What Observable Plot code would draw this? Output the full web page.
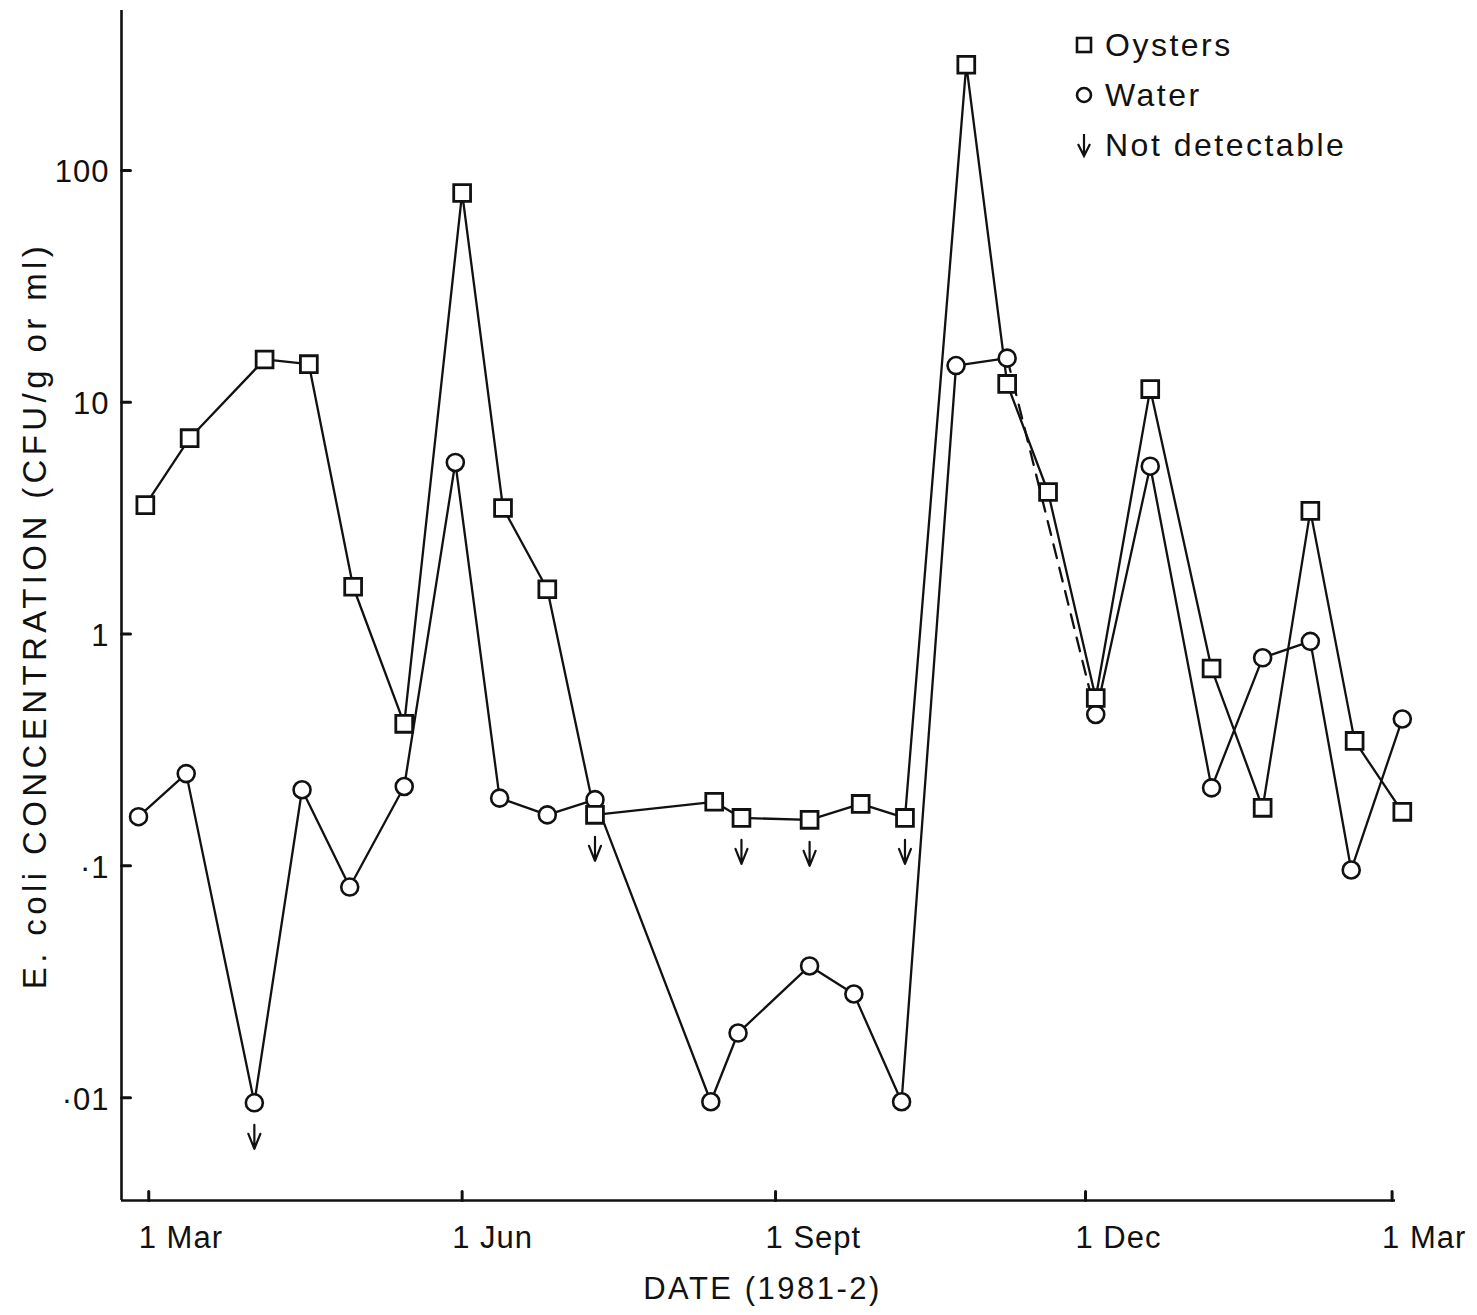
<!DOCTYPE html>
<html>
<head>
<meta charset="utf-8">
<script src="https://cdn.jsdelivr.net/npm/d3@7"></script>
<script src="https://cdn.jsdelivr.net/npm/@observablehq/plot@0.6"></script>
<style>
  html, body { margin: 0; padding: 0; background: #fff; }
  #wrap { position: relative; width: 1477px; height: 1315px; overflow: hidden; }
  #legend { position: absolute; left: 1074px; top: 20px; font-family: "Liberation Sans", Arial, sans-serif; font-size: 32px; letter-spacing: 2.5px; color: #111; }
  #legend .row { display: flex; align-items: center; height: 50px; }
  #legend svg { width: 22px; height: 30px; margin-right: 9px; flex: none; }
</style>
</head>
<body>
<div id="wrap">
  <div id="chart"></div>
  <div id="legend">
    <div class="row"><svg viewBox="0 0 22 30"><rect x="3" y="8" width="14" height="14" fill="#fff" stroke="#111" stroke-width="2.6"/></svg><span>Oysters</span></div>
    <div class="row"><svg viewBox="0 0 22 30"><circle cx="10" cy="15" r="7" fill="#fff" stroke="#111" stroke-width="2.6"/></svg><span>Water</span></div>
    <div class="row"><svg viewBox="0 0 22 30"><path d="M10,4V26M4,14L10,26L16,14" fill="none" stroke="#111" stroke-width="2.2"/></svg><span>Not detectable</span></div>
  </div>
</div>
<script>
// ---- data ----
const oysterDates = ["1981-02-28","1981-03-13","1981-04-04","1981-04-17","1981-04-30","1981-05-15","1981-06-01","1981-06-13","1981-06-26","1981-07-10","1981-08-14","1981-08-22","1981-09-11","1981-09-26","1981-10-09","1981-10-27","1981-11-08","1981-11-20","1981-12-04","1981-12-20","1982-01-07","1982-01-22","1982-02-05","1982-02-18","1982-03-04"];
const oysterValues = [3.6, 7.0, 15.3, 14.6, 1.6, 0.41, 80, 3.5, 1.56, 0.166, 0.189, 0.161, 0.158, 0.185, 0.161, 286, 12.0, 4.1, 0.53, 11.4, 0.71, 0.178, 3.4, 0.346, 0.171];
const oysterNotDetectable = [false,false,false,false,false,false,false,false,false,true,false,true,true,false,true,false,false,false,false,false,false,false,false,false,false];

const waterDates = ["1981-02-26","1981-03-12","1981-04-01","1981-04-15","1981-04-29","1981-05-15","1981-05-30","1981-06-12","1981-06-26","1981-07-10","1981-08-13","1981-08-21","1981-09-11","1981-09-24","1981-10-08","1981-10-24","1981-11-08","1981-12-04","1981-12-20","1982-01-07","1982-01-22","1982-02-05","1982-02-17","1982-03-04"];
const waterValues = [0.163, 0.25, 0.0095, 0.213, 0.081, 0.22, 5.5, 0.196, 0.166, 0.193, 0.0096, 0.019, 0.037, 0.028, 0.0096, 14.4, 15.5, 0.45, 5.3, 0.217, 0.79, 0.93, 0.096, 0.43];
const waterNotDetectable = [false,false,true,false,false,false,false,false,false,false,false,false,false,false,false,false,false,false,false,false,false,false,false,false];
const waterDashedFrom = 16; // segment 16 -> 17 drawn dashed

const yTickValues = [0.01, 0.1, 1, 10, 100];
const yTickLabels = ["·01", "·1", "1", "10", "100"];
const xTickDates = ["1981-03-01", "1981-06-01", "1981-09-01", "1981-12-01", "1982-03-01"];
const xTickLabels = ["1 Mar", "1 Jun", "1 Sept", "1 Dec", "1 Mar"];

const xTitle = "DATE (1981-2)";
const yTitle = "E. coli CONCENTRATION (CFU/g or ml)";

// ---- build tables ----
const parse = s => new Date(s + "T00:00:00Z");
const oysters = oysterDates.map((d, i) => ({date: parse(d), value: oysterValues[i], nd: oysterNotDetectable[i]}));
const water = waterDates.map((d, i) => ({date: parse(d), value: waterValues[i], nd: waterNotDetectable[i]}));
const waterSolidA = water.slice(0, waterDashedFrom + 1);
const waterDashed = water.slice(waterDashedFrom, waterDashedFrom + 2);
const waterSolidB = water.slice(waterDashedFrom + 1);
const ndPoints = [...water.filter(d => d.nd), ...oysters.filter(d => d.nd)];
const xTicks = xTickDates.map(parse);

const xDomain = [parse("1981-02-21"), parse("1982-03-02")];
const yDomain = [0.0036, 490];

const FONT = '"Liberation Sans", Arial, sans-serif';
const ink = "#111";

const tickShape = {draw(ctx, l) { ctx.moveTo(0, 0); ctx.lineTo(0, -l); }};
const ndShape = {draw(ctx, l) {
  ctx.moveTo(0, -l + 24); ctx.lineTo(0, -l);
  ctx.moveTo(-6, -l + 15); ctx.lineTo(0, -l); ctx.lineTo(6, -l + 15);
}};

const chart = Plot.plot({
  width: 1477,
  height: 1315,
  marginLeft: 121,
  marginRight: 82,
  marginTop: 10,
  marginBottom: 115,
  style: {fontFamily: FONT, color: ink, background: "#fff", overflow: "visible"},
  x: {type: "utc", domain: xDomain, axis: null},
  y: {type: "log", domain: yDomain, axis: null},
  marks: [
    // axis lines
    Plot.ruleX([xDomain[0]], {stroke: ink, strokeWidth: 2.6}),
    Plot.ruleY([yDomain[0]], {stroke: ink, strokeWidth: 2.6}),
    // inward ticks
    Plot.vector(yTickValues, {x: () => xDomain[0], y: d => d, rotate: 90, length: 9, anchor: "start", shape: tickShape, stroke: ink, strokeWidth: 3}),
    Plot.vector(xTicks, {x: d => d, y: () => yDomain[0], rotate: 0, length: 9, anchor: "start", shape: tickShape, stroke: ink, strokeWidth: 3}),
    // tick labels
    Plot.text(yTickValues, {x: () => xDomain[0], y: d => d, text: (d, i) => yTickLabels[i], textAnchor: "end", dx: -12, dy: 2, fontSize: 31, fill: ink}),
    Plot.text(xTicks, {x: d => d, y: () => yDomain[0], text: (d, i) => xTickLabels[i], textAnchor: "start", dx: -10, dy: 38, fontSize: 31, fill: ink}),
    // axis titles
    Plot.text([xTitle], {frameAnchor: "bottom", textAnchor: "middle", dx: 4, dy: 98, fontSize: 31, fill: ink}),
    Plot.text([yTitle], {frameAnchor: "left", textAnchor: "middle", rotate: -90, dx: -86, dy: 10, fontSize: 33, fill: ink}),
    // lines
    Plot.line(oysters, {x: "date", y: "value", stroke: ink, strokeWidth: 2.3}),
    Plot.line(waterSolidA, {x: "date", y: "value", stroke: ink, strokeWidth: 2.3}),
    Plot.line(waterDashed, {x: "date", y: "value", stroke: ink, strokeWidth: 2.3, strokeDasharray: "14,10"}),
    Plot.line(waterSolidB, {x: "date", y: "value", stroke: ink, strokeWidth: 2.3}),
    // not detectable arrows
    Plot.vector(ndPoints, {x: "date", y: "value", rotate: 180, length: 46, anchor: "start", shape: ndShape, stroke: ink, strokeWidth: 2.2}),
    // markers
    Plot.dot(water, {x: "date", y: "value", r: 8.5, symbol: "circle", fill: "#fff", stroke: ink, strokeWidth: 2.6}),
    Plot.dot(oysters, {x: "date", y: "value", r: 9.5, symbol: "square", fill: "#fff", stroke: ink, strokeWidth: 2.8})
  ]
});

document.getElementById("chart").appendChild(chart);

// letter spacing for the stencil-like lettering
d3.select(chart).selectAll("text").each(function() {
  const t = this.textContent;
  if (t === yTitle) this.style.letterSpacing = "4.4px";
  else if (t === xTitle) this.style.letterSpacing = "2.5px";
  else this.style.letterSpacing = "1px";
});
</script>
</body>
</html>
